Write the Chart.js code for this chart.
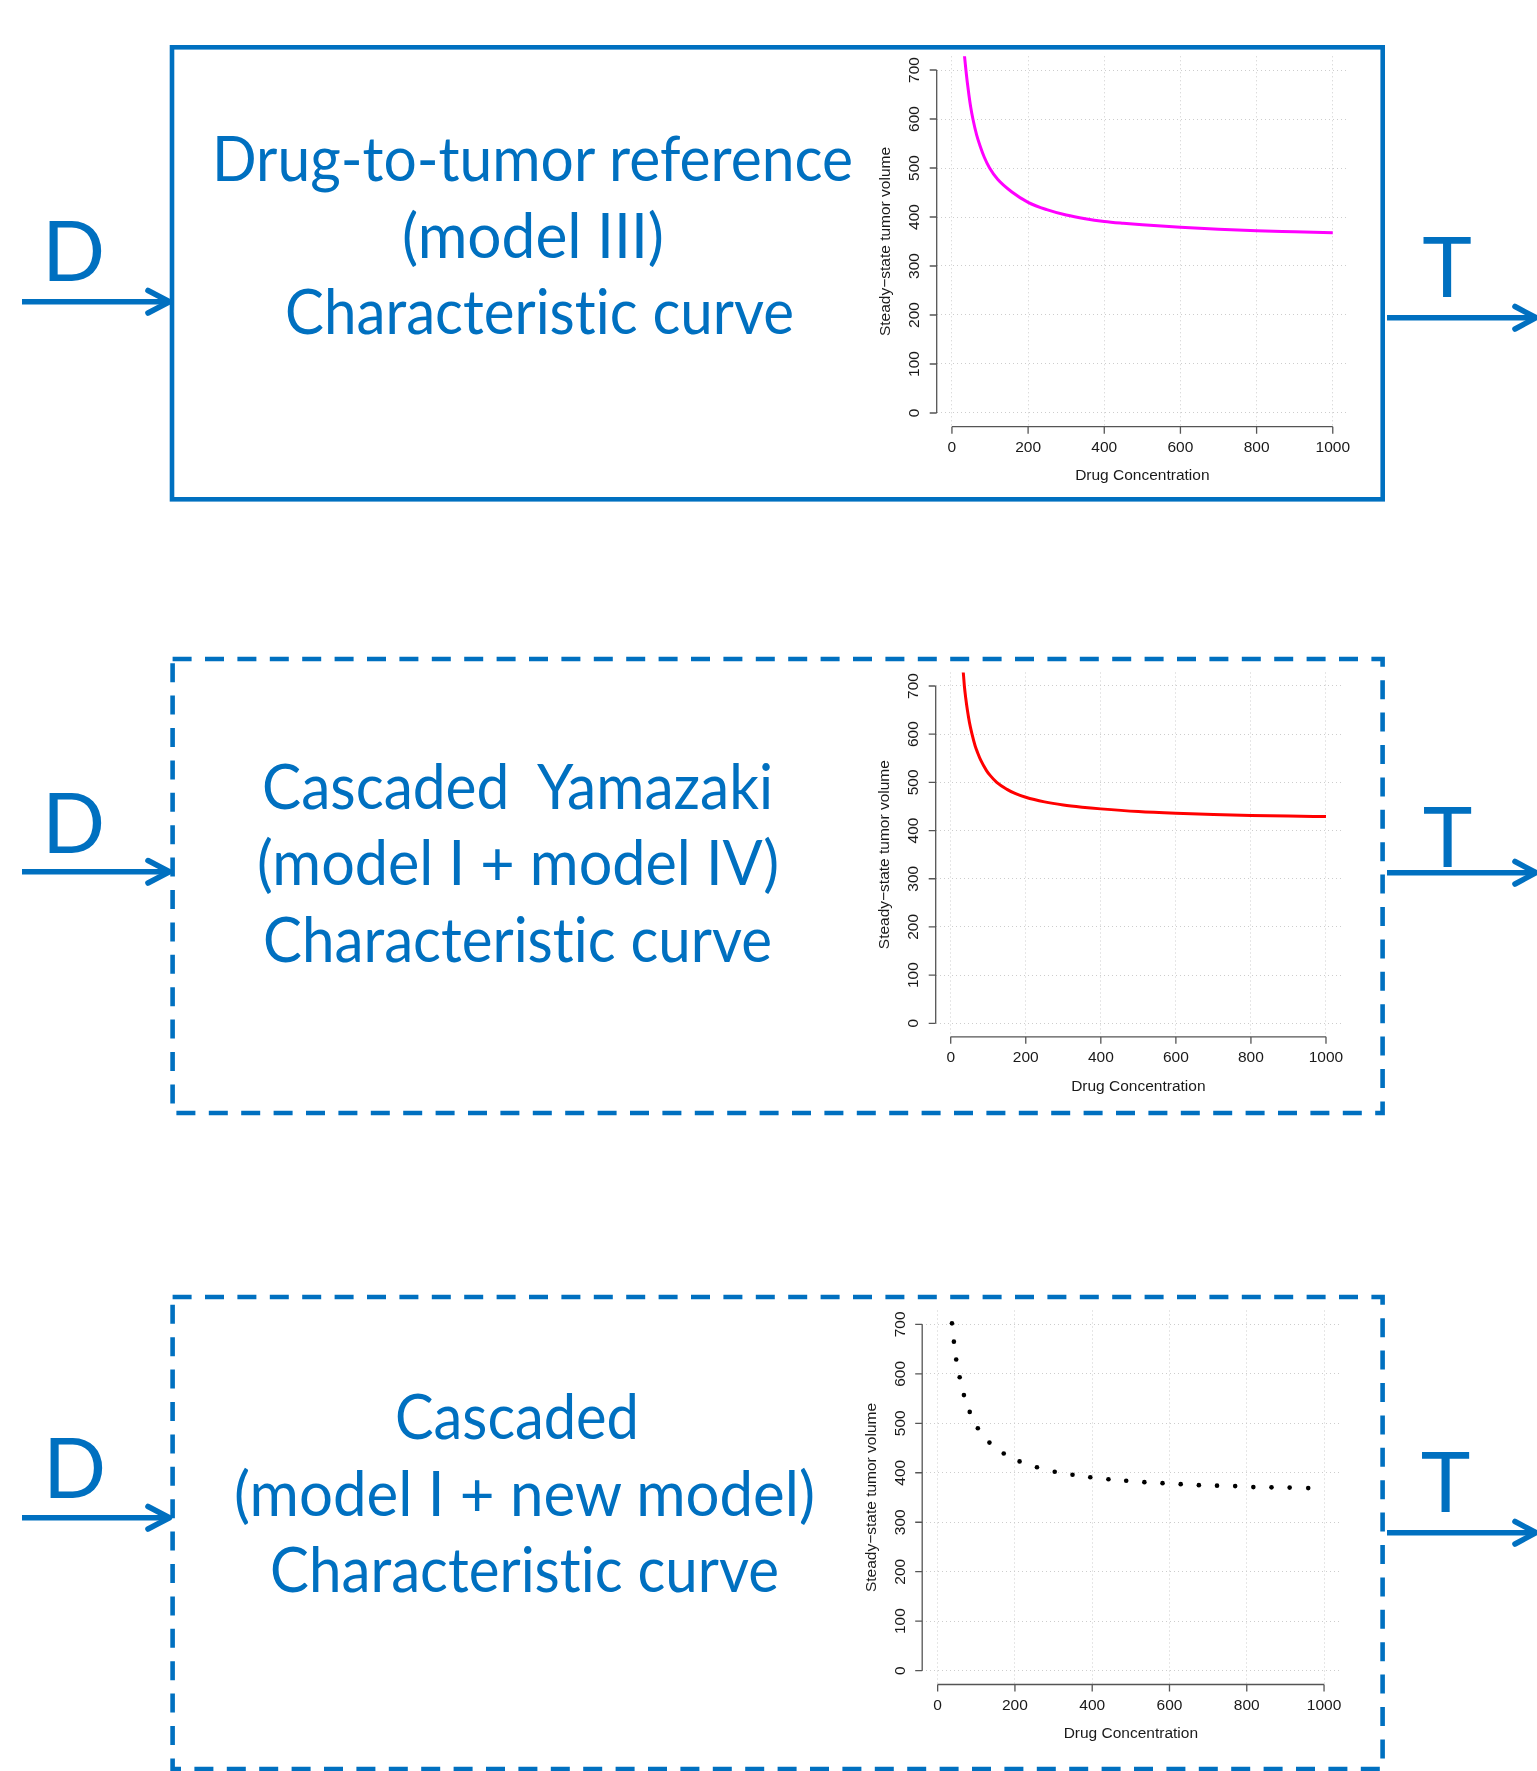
<!DOCTYPE html>
<html>
<head>
<meta charset="utf-8">
<title>Characteristic curves</title>
<script src="https://cdn.jsdelivr.net/npm/chart.js@4.4.1/dist/chart.umd.min.js"></script>
<style>
  html, body { margin: 0; padding: 0; background: #fff; }
  #page { position: relative; width: 1537px; height: 1771px; overflow: hidden; background: #fff; }
  #frame { position: absolute; left: 0; top: 0; }
  #frame text {
    font-family: Lato, "Open Sans", sans-serif; fill: #0070C0; white-space: pre;
    font-variant-ligatures: none; font-feature-settings: "liga" 0, "clig" 0;
  }
  canvas.plot { position: absolute; }
</style>
</head>
<body>
<div id="page">
  <svg id="frame" width="1537" height="1771" xmlns="http://www.w3.org/2000/svg">
    <!-- boxes -->
    <g fill="none" stroke="#0070C0" stroke-width="4.6">
      <rect x="172" y="47.3" width="1210.7" height="452"/>
      <rect x="172.6" y="659" width="1210" height="454" stroke-dasharray="19 13.4"/>
      <rect x="172.6" y="1297" width="1210" height="472" stroke-dasharray="19 13.4"/>
    </g>
    <!-- arrows -->
    <g stroke="#0070C0" stroke-width="5.6" fill="none" stroke-linejoin="round">
      <line x1="22" y1="301.7" x2="168" y2="301.7"/>
      <polyline points="148,290.5 169.5,301.7 148,313" stroke-linecap="round"/>
      <line x1="22" y1="871.8" x2="168" y2="871.8"/>
      <polyline points="148,860.6 169.5,871.8 148,883" stroke-linecap="round"/>
      <line x1="22" y1="1517.7" x2="168" y2="1517.7"/>
      <polyline points="148,1506.5 169.5,1517.7 148,1529" stroke-linecap="round"/>

      <line x1="1387" y1="317.7" x2="1533" y2="317.7"/>
      <polyline points="1515,306.5 1536,317.7 1515,329" stroke-linecap="round"/>
      <line x1="1387" y1="872.7" x2="1533" y2="872.7"/>
      <polyline points="1515,861.5 1536,872.7 1515,884" stroke-linecap="round"/>
      <line x1="1387" y1="1532.7" x2="1533" y2="1532.7"/>
      <polyline points="1515,1521.5 1536,1532.7 1515,1544" stroke-linecap="round"/>
    </g>
    <!-- signal letters -->
    <text x="73.5" y="281" font-size="83" text-anchor="middle">D</text>
    <text x="73.5" y="852.6" font-size="83" text-anchor="middle">D</text>
    <text x="74.5" y="1497.8" font-size="83" text-anchor="middle">D</text>
    <text x="1447" y="297.3" font-size="84" text-anchor="middle">T</text>
    <text x="1447.5" y="867" font-size="84" text-anchor="middle">T</text>
    <text x="1445.5" y="1511.7" font-size="84" text-anchor="middle">T</text>
    <!-- box titles -->
    <text x="532.5" y="180.7" font-size="62" text-anchor="middle" textLength="641" lengthAdjust="spacingAndGlyphs">Drug-to-tumor reference</text>
    <text x="533" y="257.5" font-size="62" text-anchor="middle" textLength="262" lengthAdjust="spacingAndGlyphs">(model III)</text>
    <text x="539.5" y="334" font-size="62" text-anchor="middle" textLength="509" lengthAdjust="spacingAndGlyphs">Characteristic curve</text>

    <text x="517.5" y="808.6" font-size="62" text-anchor="middle" textLength="511" lengthAdjust="spacingAndGlyphs">Cascaded  Yamazaki</text>
    <text x="518" y="885.4" font-size="62" text-anchor="middle" textLength="522" lengthAdjust="spacingAndGlyphs">(model I + model IV)</text>
    <text x="517.5" y="962" font-size="62" text-anchor="middle" textLength="509" lengthAdjust="spacingAndGlyphs">Characteristic curve</text>

    <text x="517" y="1438.7" font-size="62" text-anchor="middle" textLength="244" lengthAdjust="spacingAndGlyphs">Cascaded</text>
    <text x="524.5" y="1515.5" font-size="62" text-anchor="middle" textLength="581" lengthAdjust="spacingAndGlyphs">(model I + new model)</text>
    <text x="524.5" y="1592" font-size="62" text-anchor="middle" textLength="509" lengthAdjust="spacingAndGlyphs">Characteristic curve</text>
  </svg>
  <canvas id="chartRef" class="plot"></canvas>
  <canvas id="chartYamazaki" class="plot"></canvas>
  <canvas id="chartNew" class="plot"></canvas>
</div>

<script>
// axis ticks
const xTicks = [0, 200, 400, 600, 800, 1000];
const yTicks = [0, 100, 200, 300, 400, 500, 600, 700];
const xTitle = 'Drug Concentration';
const yTitle = 'Steady\u2212state tumor volume';

// model III reference curve (magenta)
const refDose = [32, 33.2, 36.7, 40, 44.6, 49, 55.1, 65, 74.4, 85, 98.9, 120, 157.5, 200, 249, 300, 350, 400, 450, 500, 600, 700, 800, 900, 1000];
const refVolume = [737, 727, 700, 677, 649, 625.5, 600, 567, 544, 522, 500, 477, 451, 430, 415, 404, 396.5, 391, 387.2, 384, 379, 375, 372, 370, 368];

// cascaded model I + model IV (red)
const yamDose = [32, 33.7, 36.4, 40, 44.4, 50, 56.8, 65, 72, 80, 95, 105, 122.6, 150, 171.4, 200, 250, 300, 350, 400, 500, 600, 700, 800, 900, 1000];
const yamVolume = [738, 726, 700, 675, 650, 624, 600, 576, 561, 546, 525, 514.5, 500, 485.5, 477, 469, 459.5, 453, 448.5, 445, 439.5, 436, 433.5, 431.5, 430, 429];

// cascaded model I + new model (black dots)
const newDose = [37, 42, 48, 57, 68, 83, 104, 134, 171, 212, 257, 303, 349, 395, 442, 488, 535, 582, 629, 676, 723, 770, 817, 864, 911, 959];
const newVolume = [702, 665, 629, 593, 557, 523, 490, 461, 439, 423, 411, 402, 396, 391, 387, 384, 381, 379, 377, 375, 374, 373, 371, 370.5, 370, 369];

// R-style axes: line only between first and last tick, outward ticks, rotated y labels
const rAxes = {
  id: 'rAxes',
  afterDraw(chart) {
    const {ctx, chartArea: a, scales: {x, y}} = chart;
    ctx.save();
    ctx.strokeStyle = '#555';
    ctx.lineWidth = 1.3;
    ctx.beginPath();
    ctx.moveTo(x.getPixelForValue(xTicks[0]), a.bottom);
    ctx.lineTo(x.getPixelForValue(xTicks[xTicks.length - 1]), a.bottom);
    xTicks.forEach(v => {
      const px = x.getPixelForValue(v);
      ctx.moveTo(px, a.bottom);
      ctx.lineTo(px, a.bottom + 7);
    });
    ctx.moveTo(a.left, y.getPixelForValue(yTicks[0]));
    ctx.lineTo(a.left, y.getPixelForValue(yTicks[yTicks.length - 1]));
    yTicks.forEach(v => {
      const py = y.getPixelForValue(v);
      ctx.moveTo(a.left, py);
      ctx.lineTo(a.left - 7, py);
    });
    ctx.stroke();

    ctx.fillStyle = '#1a1a1a';
    ctx.font = '15.5px "Liberation Sans", Arial, sans-serif';
    ctx.textAlign = 'center';
    ctx.textBaseline = 'middle';
    xTicks.forEach(v => ctx.fillText(String(v), x.getPixelForValue(v), a.bottom + 21));
    ctx.fillText(xTitle, (a.left + a.right) / 2, a.bottom + 49.5);
    yTicks.forEach(v => {
      ctx.save();
      ctx.translate(a.left - 21.5, y.getPixelForValue(v));
      ctx.rotate(-Math.PI / 2);
      ctx.fillText(String(v), 0, 0);
      ctx.restore();
    });
    ctx.save();
    ctx.translate(a.left - 50.5, (a.top + a.bottom) / 2);
    ctx.rotate(-Math.PI / 2);
    ctx.fillText(yTitle, 0, 0);
    ctx.restore();
    ctx.restore();
  }
};

function makeChart(id, area, dose, volume, style) {
  const cv = document.getElementById(id);
  const left = Math.floor(area.left - 100), top = Math.floor(area.top - 20);
  const right = Math.ceil(area.right + 25), bottom = Math.ceil(area.bottom + 80);
  cv.width = right - left;
  cv.height = bottom - top;
  cv.style.left = left + 'px';
  cv.style.top = top + 'px';

  return new Chart(cv, {
    type: 'line',
    data: {
      datasets: [Object.assign({
        data: dose.map((d, i) => ({x: d, y: volume[i]})),
        fill: false
      }, style)]
    },
    options: {
      responsive: false,
      animation: false,
      devicePixelRatio: 1,
      layout: {
        padding: {
          left: area.left - left,
          top: area.top - top,
          right: right - area.right,
          bottom: bottom - area.bottom
        }
      },
      plugins: {legend: {display: false}, tooltip: {enabled: false}},
      scales: {
        x: {
          type: 'linear', min: -40, max: 1040,
          afterBuildTicks: s => { s.ticks = xTicks.map(v => ({value: v})); },
          ticks: {display: false},
          grid: {color: '#cdcdcd', drawTicks: false, lineWidth: 1},
          border: {display: false, dash: [1, 3]}
        },
        y: {
          type: 'linear', min: -28, max: 728,
          afterBuildTicks: s => { s.ticks = yTicks.map(v => ({value: v})); },
          ticks: {display: false},
          grid: {color: '#cdcdcd', drawTicks: false, lineWidth: 1},
          border: {display: false, dash: [1, 3]}
        }
      }
    },
    plugins: [rAxes]
  });
}

makeChart('chartRef', {left: 936.7, right: 1348, top: 56.3, bottom: 426.7}, refDose, refVolume, {
  borderColor: '#ff00ff', borderWidth: 3, pointRadius: 0, cubicInterpolationMode: 'monotone'
});
makeChart('chartYamazaki', {left: 935.7, right: 1341, top: 672.5, bottom: 1036.8}, yamDose, yamVolume, {
  borderColor: '#ff0000', borderWidth: 3, pointRadius: 0, cubicInterpolationMode: 'monotone'
});
makeChart('chartNew', {left: 922.2, right: 1339.5, top: 1310.5, bottom: 1684.5}, newDose, newVolume, {
  showLine: false, pointRadius: 2.3, pointBorderWidth: 0,
  pointBackgroundColor: '#000', borderColor: '#000'
});
</script>
</body>
</html>
